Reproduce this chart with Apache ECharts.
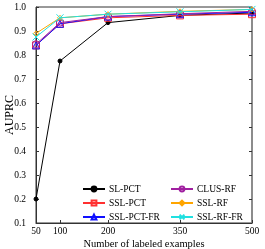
<!DOCTYPE html>
<html><head><meta charset="utf-8">
<script src="https://cdn.jsdelivr.net/npm/echarts@6/dist/echarts.min.js"></script>
<style>html,body{margin:0;padding:0;background:#fff}#c{width:265px;height:249px}</style>
</head><body><div id="c"></div>
<script>
const xValues = [50, 100, 200, 350, 500];
const xTicks = [50, 100, 200, 350, 500];
const seriesNames = ['SL-PCT','SSL-PCT','SSL-PCT-FR','CLUS-RF','SSL-RF','SSL-RF-FR'];
const slPct     = [0.20, 0.775, 0.935, 0.965, 0.975];
const sslPct    = [0.840, 0.930, 0.955, 0.965, 0.970];
const sslPctFr  = [0.840, 0.930, 0.960, 0.970, 0.978];
const clusRf    = [0.845, 0.935, 0.960, 0.972, 0.982];
const sslRf     = [0.890, 0.955, 0.970, 0.982, 0.990];
const sslRfFr   = [0.875, 0.955, 0.970, 0.980, 0.990];
const values = [slPct, sslPct, sslPctFr, clusRf, sslRf, sslRfFr];
const colors = ['#000000','#ff3030','#1010ff','#a020a0','#ffa500','#20e0e0'];
const symbols = ['circle','rect','triangle','circle','diamond','path://M0,0L10,10M10,0L0,10'];
const symSizes = [4,7,7,7,5,7];
const hollow = [false,true,true,true,true,true];
const FONT = 'Liberation Serif';
const legendBase = {
  orient:'vertical', itemWidth:22, itemHeight:6, itemGap:4, padding:0,
  textStyle:{fontFamily:FONT,fontSize:9.5,color:'#000',padding:[0,0,0,-1]}
};
const chart = echarts.init(document.getElementById('c'));
chart.setOption({
  animation:false,
  textStyle:{fontFamily:FONT},
  grid:{left:36,right:13,top:7,bottom:26,show:true,borderColor:'#333',borderWidth:1,outerBoundsMode:'none',containLabel:false},
  legend:[
    Object.assign({left:82, top:184, data:seriesNames.slice(0,3)}, legendBase),
    Object.assign({left:170, top:184, data:seriesNames.slice(3,6)}, legendBase)
  ],
  xAxis:{type:'value',min:50,max:500,
    name:'Number of labeled examples',nameLocation:'middle',nameGap:16,nameMoveOverlap:false,
    nameTextStyle:{fontFamily:FONT,fontSize:10.5,color:'#000'},
    axisLine:{lineStyle:{color:'#333'}},
    axisTick:{inside:true,length:3,customValues:xTicks,lineStyle:{color:'#333'}},
    axisLabel:{customValues:xTicks,fontFamily:FONT,fontSize:9.5,color:'#000',margin:3},
    splitLine:{show:false}},
  yAxis:[{type:'value',min:0.1,max:1.0,interval:0.1,
    name:'AUPRC',nameLocation:'middle',nameGap:20,nameMoveOverlap:false,
    nameTextStyle:{fontFamily:FONT,fontSize:12,color:'#000'},
    axisLine:{show:true,lineStyle:{color:'#333'}},
    axisTick:{inside:true,length:3,lineStyle:{color:'#333'}},
    axisLabel:{fontFamily:FONT,fontSize:9.5,color:'#000',margin:10,formatter:v=>v.toFixed(1)},
    splitLine:{show:false}},
   {type:'value',min:0.1,max:1.0,interval:0.1,position:'right',
    axisLine:{show:true,lineStyle:{color:'#888',width:1.5}},
    axisTick:{inside:true,length:3,lineStyle:{color:'#333'}},
    axisLabel:{show:false},splitLine:{show:false}}],
  series: seriesNames.map((n,i)=>({
    name:n,type:'line',yAxisIndex:0,
    data:xValues.map((x,j)=>[x,values[i][j]]),
    symbol:symbols[i],symbolSize:symSizes[i],showSymbol:true,
    lineStyle:{color:colors[i],width:1},
    itemStyle:{color:hollow[i]?'rgba(255,255,255,0)':colors[i],borderColor:colors[i],borderWidth:1},
    z:i
  }))
});
</script></body></html>
